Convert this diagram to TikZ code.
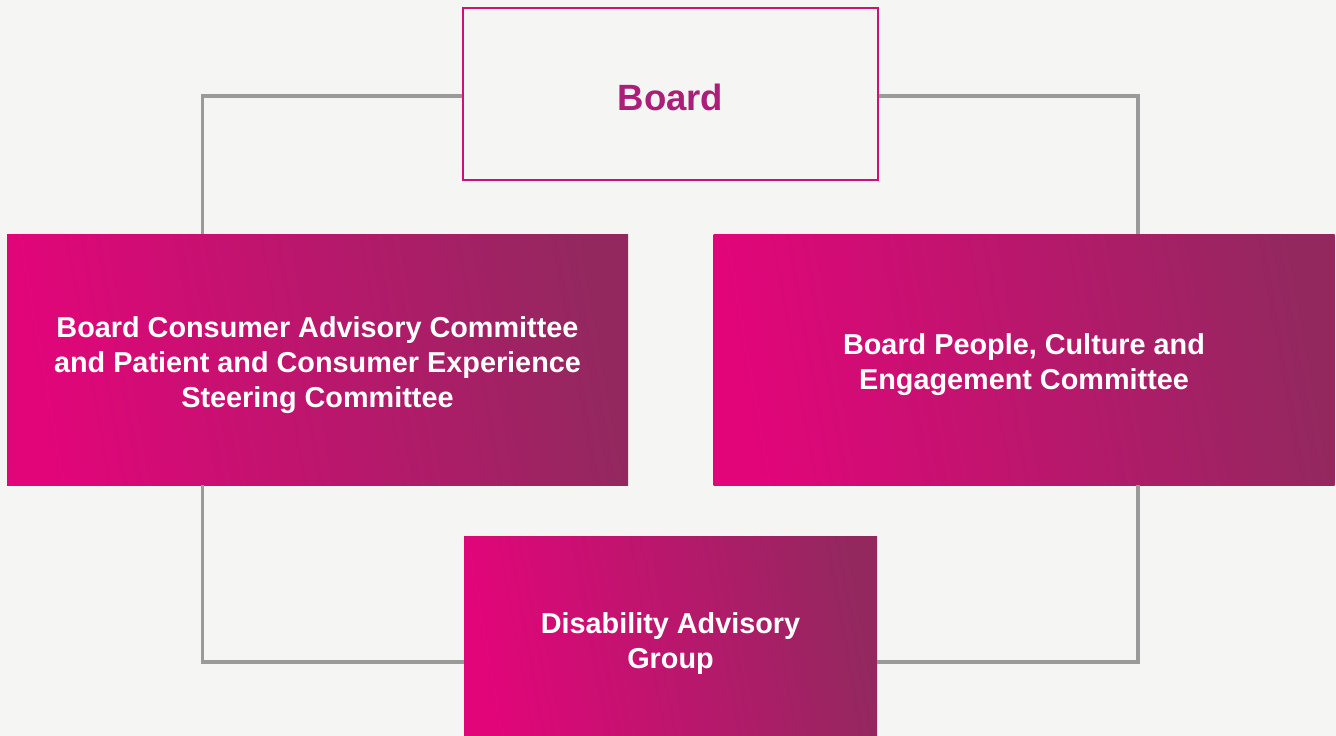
\documentclass[tikz,border=0pt]{standalone}
\usepackage{fontspec}
\setmainfont{Liberation Sans}
\usepackage{xcolor}
\usepackage{tikz}
\usetikzlibrary{positioning,calc}
\definecolor{paper}{HTML}{F5F5F3}
\definecolor{hotpink}{HTML}{E2057A}
\definecolor{plum}{HTML}{93285F}
\definecolor{boardtxt}{HTML}{A91F7A}
\definecolor{boardline}{HTML}{CE1274}
\definecolor{wire}{HTML}{9A9A9A}
% extra room above the first text line
\newcommand{\padtop}[1]{\rule{0pt}{#1}}
\tikzset{
  boardbox/.style={
    rectangle, draw=boardline, fill=paper, line width=0.8pt,
    minimum width=8.3cm, minimum height=3.44cm,
    font=\fontsize{20.8}{25}\selectfont\bfseries, text=boardtxt,
    text height=19pt, text depth=0pt
  },
  committeebox/.style={
    rectangle, left color=hotpink, right color=plum, shading angle=100,
    minimum width=#1, text=white, align=center,
    font=\fontsize{16.4}{19.8}\selectfont\bfseries, inner sep=0pt
  },
  committeebox/.default=12.42cm,
  linkline/.style={draw=wire, line width=2pt}
}

\begin{document}
\begin{tikzpicture}
  \fill[paper] (0,0) rectangle (26.72,-14.72);
  \useasboundingbox (0,0) rectangle (26.72,-14.72);

  \node[boardbox] (board) at (13.41,-1.88) {Board};
  \node[committeebox, minimum height=5.02cm] (consumer) at (6.35,-7.19)
    {\padtop{18.6pt}Board Consumer Advisory Committee\\and Patient and Consumer Experience\\Steering Committee};
  \node[committeebox, minimum height=5.02cm] (culture) at (20.48,-7.19)
    {\padtop{17.6pt}Board People, Culture and\\Engagement Committee};
  \node[committeebox=8.26cm, minimum height=4cm] (disability) at (13.41,-12.72)
    {\padtop{20.8pt}Disability Advisory\\Group};

  % grey links round the four boxes
  \draw[linkline] ([yshift=-0.04cm]board.west) -| ([xshift=3.92cm]consumer.north west);
  \draw[linkline] ([yshift=-0.04cm]board.east) -| ([xshift=8.5cm]culture.north west);
  \draw[linkline] ([xshift=3.92cm]consumer.south west) |- ([yshift=-0.52cm]disability.west);
  \draw[linkline] ([xshift=8.5cm]culture.south west) |- ([yshift=-0.52cm]disability.east);
\end{tikzpicture}
\end{document}
